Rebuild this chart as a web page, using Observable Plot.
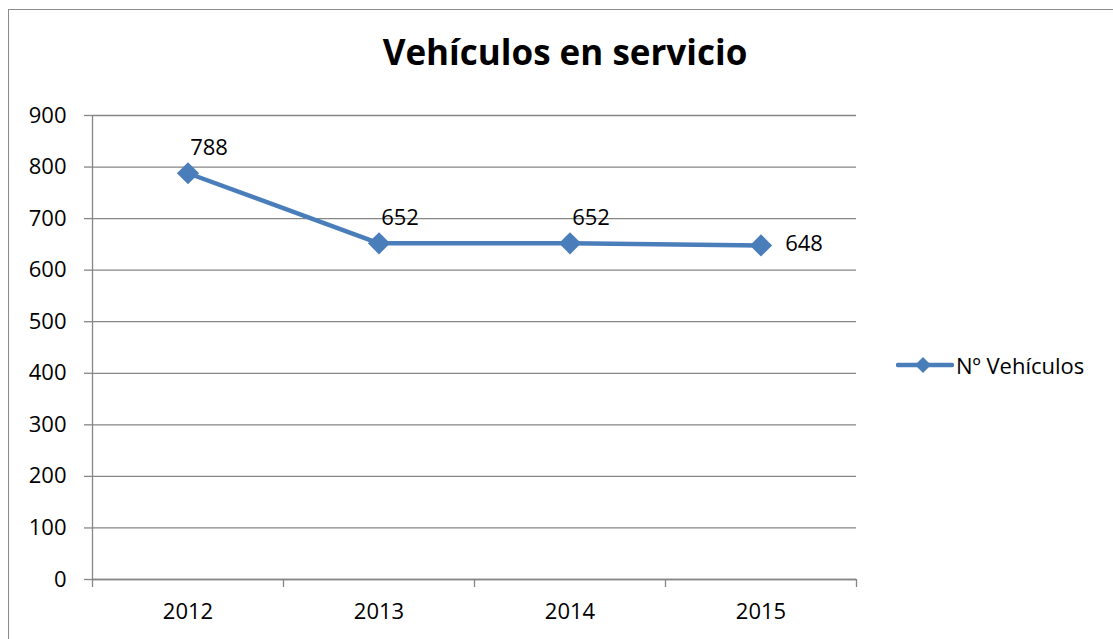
<!DOCTYPE html>
<html>
<head>
<meta charset="utf-8">
<script src="https://cdn.jsdelivr.net/npm/d3@7"></script>
<script src="https://cdn.jsdelivr.net/npm/@observablehq/plot@0.6"></script>
<style>
  html, body { margin: 0; padding: 0; background: #fff; }
  #wrap { position: relative; width: 1113px; height: 639px; overflow: hidden; font-family: "Open Sans", sans-serif; }
  #border { position: absolute; left: 8px; top: 9px; width: 1200px; height: 700px; border: 1.5px solid #8c8c8c; box-sizing: border-box; }
  #title { position: absolute; left: 0; top: 30px; width: 1130px; text-align: center; font-weight: bold; font-size: 35px; line-height: 44px; color: #000; }
  #legend { position: absolute; left: 896px; top: 350px; display: flex; align-items: center; font-size: 22px; color: #000; }
  #chart { position: absolute; left: 0; top: 0; }
</style>
</head>
<body>
<div id="wrap">
  <div id="border"></div>
  <div id="chart"></div>
  <div id="title">Vehículos en servicio</div>
  <div id="legend">
    <svg width="58" height="24"><line x1="2" y1="12" x2="56" y2="12" stroke="#4a7ebb" stroke-width="4.5" stroke-linecap="round"/><path d="M27,4 L35,12 L27,20 L19,12 Z" fill="#4a7ebb"/></svg>
    <span style="margin-left:2px">Nº Vehículos</span>
  </div>
</div>
<script>
const years = ["2012", "2013", "2014", "2015"];
const vehicles = [788, 652, 652, 648];
const yTicks = [0, 100, 200, 300, 400, 500, 600, 700, 800, 900];
const seriesName = "Nº Vehículos";

const data = years.map((yr, i) => ({year: yr, pos: i + 0.5, value: vehicles[i], last: i === years.length - 1}));
const bounds = d3.range(years.length + 1);
const color = "#4a7ebb";
const grid = "#868686";

const plot = Plot.plot({
  width: 1113,
  height: 639,
  marginLeft: 92,
  marginRight: 257,
  marginTop: 115,
  marginBottom: 60,
  style: {fontFamily: "Open Sans, sans-serif", fontSize: "22px", background: "transparent", color: "#000"},
  x: {type: "linear", domain: [0, years.length]},
  y: {domain: [0, 900]},
  marks: [
    Plot.gridY(yTicks, {stroke: grid, strokeOpacity: 1, strokeWidth: 1.3}),
    Plot.ruleX([0], {stroke: grid, strokeWidth: 1.3, y1: 0, y2: 900}),
    Plot.axisY({ticks: yTicks, tickSize: 8, tickPadding: 18, stroke: grid, strokeWidth: 1.3, label: null, fontSize: 22}),
    Plot.axisX({ticks: bounds, tickSize: 8, tickFormat: () => "", stroke: grid, strokeWidth: 1.3, label: null}),
    Plot.axisX({ticks: data.map(d => d.pos), tickSize: 0, tickPadding: 24, tickFormat: (d) => years[Math.floor(d)], label: null, fontSize: 22}),
    Plot.ruleY([0], {stroke: grid, strokeWidth: 1.3}),
    Plot.line(data, {x: "pos", y: "value", stroke: color, strokeWidth: 4.5}),
    Plot.dot(data, {x: "pos", y: "value", symbol: "diamond2", r: 10, fill: color, stroke: "none"}),
    Plot.text(data.filter(d => !d.last), {x: "pos", y: "value", text: d => String(d.value), dx: 21, dy: -25, fontSize: 22, fill: "#000"}),
    Plot.text(data.filter(d => d.last), {x: "pos", y: "value", text: d => String(d.value), dx: 43, dy: -1, fontSize: 22, fill: "#000"})
  ]
});
document.getElementById("chart").appendChild(plot);
</script>
</body>
</html>
